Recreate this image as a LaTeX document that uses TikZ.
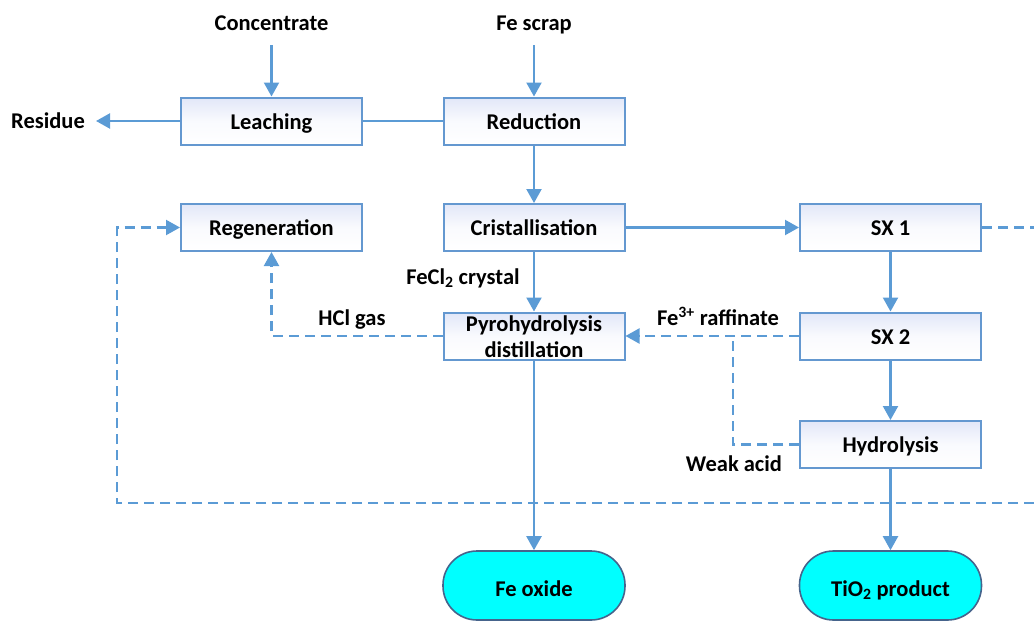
\documentclass[tikz,border=0pt]{standalone}
\usepackage{fontspec}
\setmainfont{Carlito}
\usetikzlibrary{arrows.meta,calc}

\definecolor{lineblue}{RGB}{91,155,213}
\definecolor{boxedge}{RGB}{100,152,208}
\definecolor{boxtint}{RGB}{226,231,248}
\definecolor{termedge}{RGB}{70,100,140}
\definecolor{termfill}{RGB}{0,255,255}

\tikzset{
  lbl/.style={font=\bfseries\fontsize{22.5}{26}\selectfont, inner sep=0pt,
    text height=14.5pt, text depth=0pt},
  proc/.style={draw=boxedge, line width=2pt, shading=axis, shading angle=60,
    top color=boxtint, bottom color=white, middle color=white!80!boxtint,
    minimum width=181pt, minimum height=47pt, inner sep=0pt, align=center,
    font=\bfseries\fontsize{22.5}{26.5}\selectfont},
  oneline/.style={text height=16pt, text depth=0pt},
  term/.style={draw=termedge, line width=1.6pt, fill=termfill, rounded corners=34pt,
    minimum width=182pt, minimum height=69pt, inner sep=0pt,
    text height=21pt, text depth=0pt,
    font=\bfseries\fontsize{22.5}{26}\selectfont},
  tip/.style={-{Triangle[length=14pt,width=15pt]}},
  flow/.style={draw=lineblue, line width=2.2pt, tip},
  plain/.style={draw=lineblue, line width=2.2pt},
  recycle/.style={draw=lineblue, line width=2.2pt, dash pattern=on 10pt off 6pt},
  recyclearrow/.style={recycle, tip},
}

\begin{document}
\begin{tikzpicture}[x=1pt,y=-1pt]
  \useasboundingbox (0,0) rectangle (1034,621);

  % process steps
  \node[proc,oneline] (leach) at (271.5,121) {Leaching};
  \node[proc,oneline] (red)   at (534,121)   {Reduction};
  \node[proc,oneline] (regen) at (271.5,227.5) {Regeneration};
  \node[proc,oneline] (crys)  at (534,227.5) {Cristallisation};
  \node[proc,oneline] (sx1)   at (890.5,227.5) {SX 1};
  \node[proc]         (pyro)  at (534,336) {\rule{0pt}{17pt}Pyrohydrolysis\\distillation};
  \node[proc,oneline] (sx2)   at (890.5,336) {SX 2};
  \node[proc,oneline] (hydro) at (890.5,444.5) {Hydrolysis};

  % products
  \node[term] (feox) at (534,585.5) {Fe oxide};
  \node[term] (tio2) at (890.5,585.5) {TiO\textsubscript{2} product};

  % feeds and stream labels
  \node[lbl] (conc)  at (271.5,23.5) {Concentrate};
  \node[lbl] (scrap) at (534,23.5) {Fe scrap};
  \node[lbl] (res)   at (48,121.5) {Residue};
  \node[lbl] (fecl)  at (463,277) {FeCl\textsubscript{2} crystal};
  \node[lbl] (hcl)   at (352,318) {HCl gas};
  \node[lbl] (raff)  at (718,318) {Fe\textsuperscript{3+} raffinate};
  \node[lbl] (weak)  at (734,464) {Weak acid};

  % free ends of connectors
  \coordinate (concout)  at (271.5,45);
  \coordinate (scrapout) at (534,45);
  \coordinate (resin)    at (96,121);
  \coordinate (sx1out)   at (1034,227.5);
  \coordinate (weakjoin) at (733,336);
  \coordinate (loopin)   at (1034,503);
  \coordinate (loopturn) at (117,503);

  % main flow
  \draw[flow] (concout) -- (leach.north);
  \draw[flow] (scrapout) -- (red.north);
  \draw[flow] (leach.west) -- (resin);
  \draw[plain] (leach.east) -- (red.west);
  \draw[flow] (red.south) -- (crys.north);
  \draw[flow] (crys.east) -- (sx1.west);
  \draw[flow] (crys.south) -- (pyro.north);
  \draw[flow] (sx1.south) -- (sx2.north);
  \draw[flow] (sx2.south) -- (hydro.north);
  \draw[flow] (hydro.south) -- (tio2.north);
  \draw[flow] (pyro.south) -- (feox.north);

  % recycle streams
  \draw[recycle] (sx1.east) -- (sx1out);
  \draw[recyclearrow] (pyro.west) -| (regen.south);
  \draw[recyclearrow] (sx2.west) -- (pyro.east);
  \draw[recycle] (hydro.west) -| (weakjoin);
  \draw[recyclearrow] (loopin) -- (loopturn) |- (regen.west);
\end{tikzpicture}
\end{document}
